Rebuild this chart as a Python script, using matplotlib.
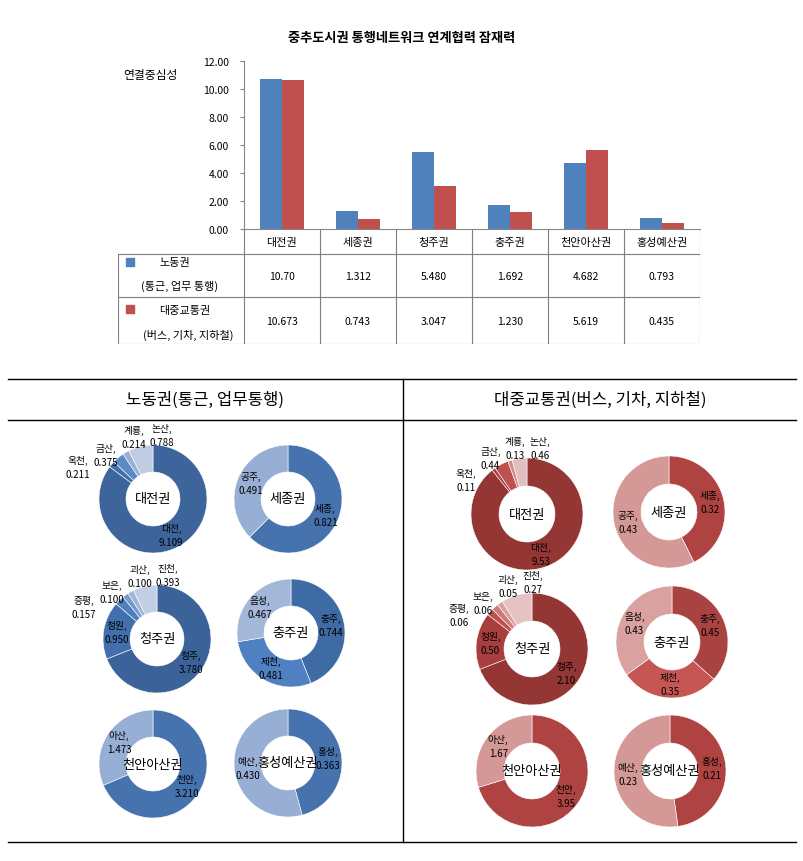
import numpy as np
import matplotlib.pyplot as plt
from matplotlib.patches import Rectangle
from matplotlib.lines import Line2D

plt.rcParams['font.family'] = ['Noto Sans CJK KR', 'DejaVu Sans']

W, H = 804, 862

# bar chart / table data
regions = ['대전권', '세종권', '청주권', '충주권', '천안아산권', '홍성예산권']
labor = [10.70, 1.312, 5.480, 1.692, 4.682, 0.793]
transit = [10.673, 0.743, 3.047, 1.230, 5.619, 0.435]
labor_text = ['10.70', '1.312', '5.480', '1.692', '4.682', '0.793']
transit_text = ['10.673', '0.743', '3.047', '1.230', '5.619', '0.435']
yticks = [0, 2, 4, 6, 8, 10, 12]

# donut data (clockwise from 12 o'clock)
daejeon_names = ['대전', '옥천', '금산', '계룡', '논산']
daejeon_labor = [9.109, 0.211, 0.375, 0.214, 0.788]
daejeon_transit = [9.53, 0.11, 0.44, 0.13, 0.46]
sejong_names = ['세종', '공주']
sejong_labor = [0.821, 0.491]
sejong_transit = [0.32, 0.43]
cheongju_names = ['청주', '청원', '증평', '보은', '괴산', '진천']
cheongju_labor = [3.780, 0.950, 0.157, 0.100, 0.100, 0.393]
cheongju_transit = [2.10, 0.50, 0.06, 0.06, 0.05, 0.27]
chungju_names = ['충주', '제천', '음성']
chungju_labor = [0.744, 0.481, 0.467]
chungju_transit = [0.45, 0.35, 0.43]
cheonan_names = ['천안', '아산']
cheonan_labor = [3.210, 1.473]
cheonan_transit = [3.95, 1.67]
hongseong_names = ['홍성', '예산']
hongseong_labor = [0.363, 0.430]
hongseong_transit = [0.21, 0.23]

blue_sets = {2: ['#4672AE', '#97AFD4'],
             3: ['#3F6BA5', '#4F80C1', '#A3B7D8'],
             5: ['#3D659C', '#4270AE', '#5A8AC8', '#98B0D6', '#BFCCE2'],
             6: ['#3C6399', '#4370AC', '#4F7FBE', '#769ACB', '#A0B6D8', '#C2CEE3']}
red_sets = {2: ['#AF4341', '#D49896'],
            3: ['#A94341', '#C65654', '#D9A2A1'],
            5: ['#933634', '#A63F3D', '#C0504D', '#D38B8A', '#E2BFBE'],
            6: ['#933634', '#A63F3D', '#BF504D', '#D07A78', '#DC9F9E', '#E5C3C2']}


def frect(x0, y0, x1, y1):
    # pixel box (top-left origin) -> figure fraction rect
    return [x0 / W, 1 - y1 / H, (x1 - x0) / W, (y1 - y0) / H]


fig = plt.figure(figsize=(W / 100, H / 100), dpi=100)

# ---------------- top bar chart ----------------
fig.text(402 / W, 1 - 38 / H, '중추도시권 통행네트워크 연계협력 잠재력',
         ha='center', va='center', fontsize=9.5, fontweight='bold')
fig.text(150 / W, 1 - 75 / H, '연결중심성', ha='center', va='center', fontsize=8.5)

ax = fig.add_axes(frect(244, 62, 700, 230))
x = np.arange(len(regions))
bw = 1 / 3.5
ax.bar(x - bw / 2, labor, bw, color='#4F81BD')
ax.bar(x + bw / 2, transit, bw, color='#C0504D')
ax.set_xlim(-0.5, len(regions) - 0.5)
ax.set_ylim(0, 12)
ax.set_yticks(yticks)
ax.set_yticklabels(['%.2f' % v for v in yticks], fontsize=7.5)
ax.set_xticks([])
for s in ['top', 'right']:
    ax.spines[s].set_visible(False)
for s in ['left', 'bottom']:
    ax.spines[s].set_color('#868686')
ax.tick_params(axis='y', length=3, color='#868686', pad=8)

# data table below
x_left = -0.5 - (244 - 118) / 76
tab = fig.add_axes(frect(118, 230, 700, 345))
tab.set_xlim(x_left, len(regions) - 0.5)
tab.set_ylim(345, 230)
tab.axis('off')
lc = '#7F7F7F'
for i in range(len(regions) + 1):
    tab.plot([i - 0.5, i - 0.5], [230, 345], color=lc, lw=0.8)
tab.plot([x_left, x_left], [255, 345], color=lc, lw=0.8)
for yy in [255, 298, 345]:
    tab.plot([x_left, len(regions) - 0.5], [yy, yy], color=lc, lw=0.8)
for i, r in enumerate(regions):
    tab.text(i, 243, r, ha='center', va='center', fontsize=8)
    tab.text(i, 277, labor_text[i], ha='center', va='center', fontsize=7.5)
    tab.text(i, 322, transit_text[i], ha='center', va='center', fontsize=7.5)
px = lambda p: x_left + (p - 118) / 76
tab.add_patch(Rectangle((px(126), 259), 8 / 76, 8, color='#4F81BD'))
tab.text(px(175), 263, '노동권', ha='center', va='center', fontsize=8)
tab.text(px(180), 286, '(통근, 업무 통행)', ha='center', va='center', fontsize=8)
tab.add_patch(Rectangle((px(126), 306), 8 / 76, 8, color='#C0504D'))
tab.text(px(185), 311, '대중교통권', ha='center', va='center', fontsize=8)
tab.text(px(188), 335, '(버스, 기차, 지하철)', ha='center', va='center', fontsize=8)

# ---------------- bottom donut panels ----------------
for y0 in [380, 421, 843]:
    fig.add_artist(Line2D([8 / W, 796 / W], [1 - y0 / H, 1 - y0 / H],
                          color='black', lw=1.0, transform=fig.transFigure))
fig.add_artist(Line2D([403 / W, 403 / W], [1 - 380 / H, 1 - 843 / H],
                      color='black', lw=1.0, transform=fig.transFigure))
fig.text(205 / W, 1 - 400 / H, '노동권(통근, 업무통행)', ha='center', va='center', fontsize=12)
fig.text(600 / W, 1 - 400 / H, '대중교통권(버스, 기차, 지하철)', ha='center', va='center', fontsize=12)


def donut(cx, cy, r, names, vals, colors, center, fmt, gap):
    s = r * 1.9
    a = fig.add_axes(frect(cx - s, cy - s, cx + s, cy + s))
    wedges, _ = a.pie(vals, radius=1, startangle=90, counterclock=False, colors=colors,
                      wedgeprops=dict(width=0.5, edgecolor='white', linewidth=0.4))
    a.set_xlim(-1.9, 1.9)
    a.set_ylim(-1.9, 1.9)
    total = sum(vals)
    outside = []
    for w, n, v in zip(wedges, names, vals):
        ang = np.deg2rad((w.theta1 + w.theta2) / 2)
        txt = n + ',\n' + fmt % v
        if v / total >= 0.15:
            a.text(0.75 * np.cos(ang), 0.75 * np.sin(ang), txt,
                   ha='center', va='center', fontsize=7, linespacing=1.5)
        else:
            outside.append([1.15 * np.cos(ang), txt])
    # spread the small outside labels sideways so they do not pile up
    if outside:
        xm = np.mean([o[0] for o in outside])
        k = len(outside)
        for j, o in enumerate(outside):
            xx = xm - (k - 1) / 2 * gap + j * gap
            yy = np.sqrt(max(1.2 ** 2 - xx ** 2, 0.6 ** 2))
            a.text(xx, yy, o[1], ha='center', va='center', fontsize=7, linespacing=1.5)
    a.text(0, 0, center, ha='center', va='center', fontsize=9.5)


left_centers = [(153, 500), (288, 500), (157, 640), (291, 634), (153, 765), (288, 764)]
right_centers = [(527, 515), (669, 513), (532, 650), (672, 643), (532, 772), (670, 772)]
all_names = [daejeon_names, sejong_names, cheongju_names, chungju_names, cheonan_names, hongseong_names]
all_labor = [daejeon_labor, sejong_labor, cheongju_labor, chungju_labor, cheonan_labor, hongseong_labor]
all_transit = [daejeon_transit, sejong_transit, cheongju_transit, chungju_transit,
               cheonan_transit, hongseong_transit]

for i in range(6):
    cx, cy = left_centers[i]
    donut(cx, cy, 54, all_names[i], all_labor[i], blue_sets[len(all_names[i])],
          regions[i], '%.3f', 0.52)
    cx, cy = right_centers[i]
    donut(cx, cy, 56, all_names[i], all_transit[i], red_sets[len(all_names[i])],
          regions[i], '%.2f', 0.44)

fig.savefig('out.png', dpi=100)
